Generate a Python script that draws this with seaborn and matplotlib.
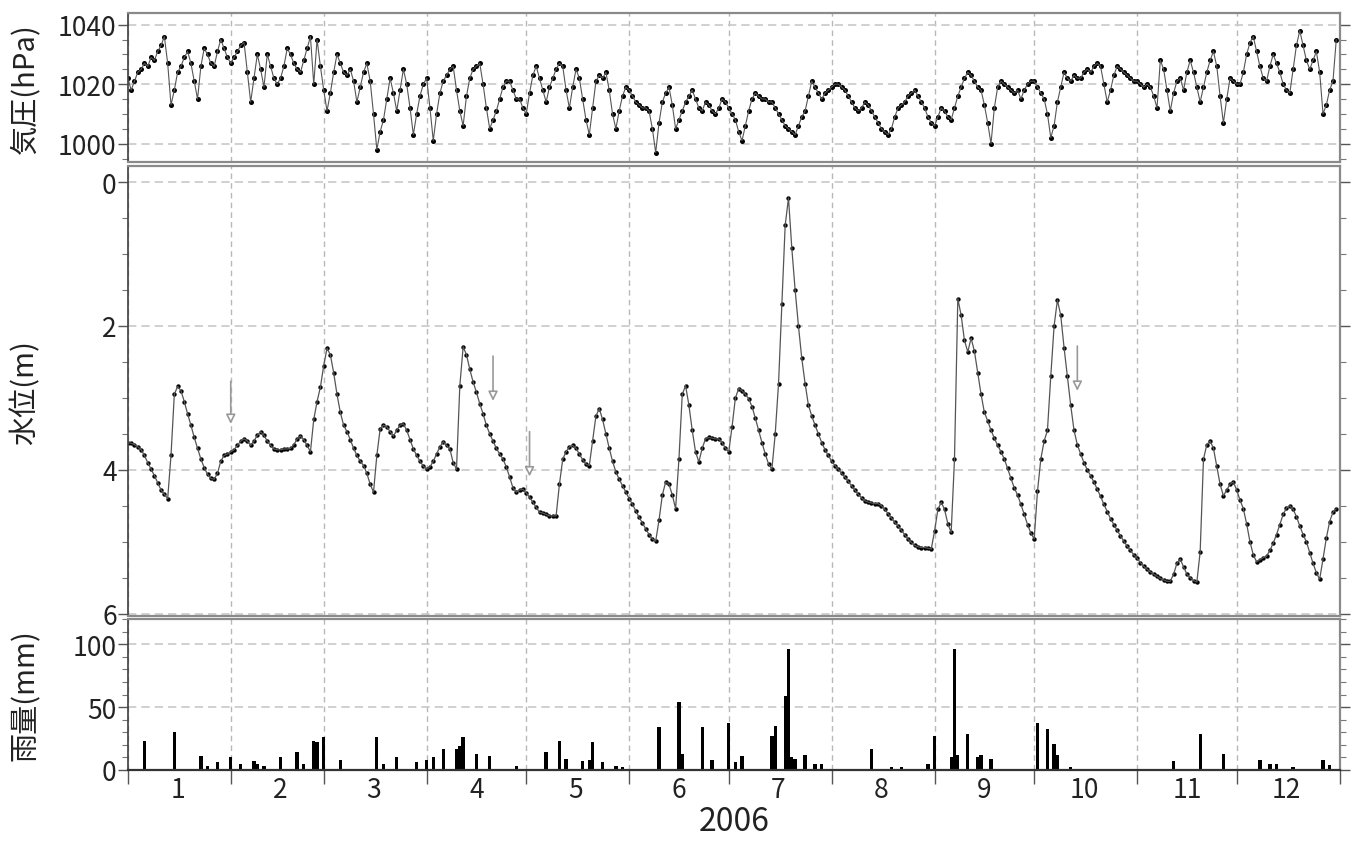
import numpy as np
import pandas as pd
import seaborn as sns
import matplotlib
matplotlib.use('Agg')
import matplotlib.pyplot as plt
import matplotlib.dates as mdates
from matplotlib.ticker import MultipleLocator, NullFormatter

# daily air pressure (hPa), 2006-01-01 .. 2006-12-31
pressure = [
    1022, 1018, 1021, 1024, 1025, 1027, 1026, 1029, 1028, 1031, 1033, 1036, 1027, 1013, 1018, 1024,
    1026, 1029, 1031, 1027, 1021, 1015, 1026, 1032, 1030, 1027, 1026, 1031, 1035, 1032, 1029,
    1027, 1029, 1031, 1033, 1034, 1024, 1014, 1022, 1030, 1025, 1019, 1030, 1026, 1022, 1020,
    1022, 1026, 1032, 1030, 1027, 1025, 1024, 1028, 1032, 1036, 1020, 1035, 1026,
    1018, 1011, 1017, 1024, 1030, 1027, 1024, 1023, 1025, 1021, 1014, 1019, 1024, 1027, 1021,
    1010, 998, 1004, 1008, 1015, 1022, 1017, 1011, 1018, 1025, 1020, 1012, 1003, 1010, 1016, 1020,
    1022, 1012, 1001, 1010, 1017, 1021, 1023, 1025, 1026, 1018, 1011, 1006, 1016, 1022, 1025,
    1026, 1027, 1020, 1012, 1005, 1008, 1011, 1015, 1019, 1021, 1021, 1018, 1015, 1015, 1012,
    1010, 1017, 1023, 1026, 1022, 1018, 1014, 1019, 1022, 1025, 1027, 1026, 1018, 1012, 1019,
    1025, 1022, 1015, 1008, 1003, 1012, 1021, 1023, 1022, 1024, 1018, 1010, 1005, 1011, 1016, 1019,
    1018, 1016, 1014, 1013, 1012, 1012, 1011, 1005, 997, 1007, 1014, 1017, 1019, 1013, 1005,
    1008, 1011, 1014, 1016, 1018, 1015, 1012, 1011, 1014, 1013, 1011, 1010, 1012, 1015, 1014,
    1012, 1010, 1008, 1004, 1001, 1006, 1011, 1015, 1017, 1016, 1015, 1015, 1014, 1014, 1012,
    1010, 1008, 1006, 1005, 1004, 1003, 1006, 1009, 1011, 1016, 1021, 1019, 1017, 1015, 1017, 1018,
    1019, 1020, 1020, 1019, 1018, 1016, 1014, 1012, 1011, 1012, 1014, 1013, 1011, 1009, 1007,
    1005, 1004, 1003, 1005, 1009, 1012, 1013, 1014, 1016, 1017, 1018, 1016, 1014, 1012, 1009, 1007,
    1006, 1009, 1012, 1011, 1009, 1008, 1012, 1016, 1019, 1022, 1024, 1023, 1021, 1019, 1018,
    1013, 1007, 1000, 1012, 1019, 1021, 1020, 1019, 1018, 1017, 1018, 1015, 1018, 1020, 1021,
    1021, 1019, 1017, 1015, 1010, 1002, 1006, 1014, 1019, 1024, 1022, 1021, 1023, 1022, 1022,
    1024, 1025, 1024, 1026, 1027, 1026, 1020, 1014, 1018, 1023, 1026, 1025, 1024, 1023, 1022, 1021,
    1021, 1020, 1019, 1020, 1019, 1016, 1012, 1028, 1025, 1018, 1011, 1017, 1021, 1022, 1018,
    1024, 1028, 1024, 1019, 1014, 1019, 1024, 1028, 1031, 1026, 1016, 1007, 1015, 1022, 1021,
    1020, 1020, 1024, 1030, 1034, 1036, 1031, 1026, 1022, 1021, 1026, 1030, 1027, 1024, 1020,
    1018, 1017, 1025, 1033, 1038, 1033, 1028, 1025, 1028, 1031, 1024, 1010, 1013, 1018, 1021, 1035,
]

# daily groundwater level (m below surface)
water_level = [
    3.62, 3.63, 3.65, 3.68, 3.72, 3.80, 3.90, 3.99, 4.08, 4.18, 4.28, 4.34, 4.40, 3.80, 2.95, 2.84,
    2.90, 3.05, 3.22, 3.38, 3.55, 3.70, 3.85, 3.97, 4.06, 4.12, 4.13, 4.05, 3.88, 3.80, 3.78,
    3.75, 3.72, 3.66, 3.60, 3.57, 3.60, 3.66, 3.60, 3.52, 3.47, 3.52, 3.60, 3.66, 3.71, 3.72,
    3.72, 3.71, 3.71, 3.70, 3.65, 3.57, 3.53, 3.58, 3.66, 3.75, 3.30, 3.05, 2.85,
    2.55, 2.31, 2.40, 2.65, 2.95, 3.20, 3.38, 3.47, 3.58, 3.70, 3.80, 3.88, 3.94, 4.05, 4.20,
    4.31, 3.80, 3.43, 3.38, 3.40, 3.47, 3.53, 3.45, 3.38, 3.36, 3.45, 3.58, 3.71, 3.80, 3.88, 3.95,
    3.99, 3.96, 3.88, 3.78, 3.68, 3.61, 3.66, 3.71, 3.90, 3.99, 2.83, 2.29, 2.40, 2.60, 2.78,
    2.92, 3.08, 3.22, 3.38, 3.50, 3.60, 3.70, 3.78, 3.85, 3.96, 4.10, 4.25, 4.31, 4.28, 4.27,
    4.32, 4.38, 4.45, 4.52, 4.59, 4.60, 4.62, 4.64, 4.64, 4.64, 4.20, 3.85, 3.75, 3.68, 3.66,
    3.70, 3.78, 3.86, 3.92, 3.94, 3.60, 3.25, 3.15, 3.30, 3.50, 3.70, 3.88, 4.03, 4.13, 4.22, 4.31,
    4.40, 4.48, 4.57, 4.66, 4.74, 4.82, 4.90, 4.96, 4.99, 4.70, 4.35, 4.17, 4.20, 4.35, 4.54,
    3.85, 2.95, 2.83, 3.10, 3.45, 3.75, 3.89, 3.70, 3.57, 3.55, 3.56, 3.57, 3.57, 3.62, 3.70,
    3.75, 3.40, 3.00, 2.87, 2.90, 2.95, 3.01, 3.12, 3.28, 3.45, 3.62, 3.78, 3.92, 3.99, 3.50,
    2.80, 1.70, 0.60, 0.22, 0.92, 1.50, 2.00, 2.45, 2.80, 3.10, 3.25, 3.38, 3.50, 3.62, 3.72, 3.80,
    3.88, 3.94, 3.99, 4.05, 4.10, 4.16, 4.22, 4.28, 4.34, 4.39, 4.43, 4.45, 4.46, 4.47, 4.47,
    4.50, 4.55, 4.61, 4.67, 4.73, 4.78, 4.84, 4.90, 4.96, 5.01, 5.05, 5.07, 5.08, 5.08, 5.09, 5.10,
    4.85, 4.55, 4.45, 4.55, 4.75, 4.87, 3.85, 1.62, 1.85, 2.20, 2.36, 2.17, 2.35, 2.65, 2.95,
    3.20, 3.32, 3.45, 3.56, 3.66, 3.75, 3.85, 3.98, 4.12, 4.25, 4.35, 4.48, 4.62, 4.76, 4.88,
    4.96, 4.30, 3.85, 3.60, 3.45, 2.70, 2.00, 1.64, 1.85, 2.30, 2.70, 3.10, 3.45, 3.65, 3.78,
    3.90, 4.00, 4.08, 4.17, 4.27, 4.37, 4.48, 4.58, 4.68, 4.76, 4.84, 4.92, 4.99, 5.06, 5.12, 5.18,
    5.23, 5.29, 5.34, 5.38, 5.42, 5.45, 5.48, 5.51, 5.53, 5.55, 5.55, 5.45, 5.30, 5.24, 5.35,
    5.45, 5.50, 5.54, 5.56, 5.14, 3.85, 3.65, 3.60, 3.70, 3.95, 4.20, 4.36, 4.28, 4.20, 4.17,
    4.28, 4.42, 4.54, 4.75, 5.00, 5.18, 5.28, 5.25, 5.22, 5.20, 5.12, 5.02, 4.90, 4.76, 4.62,
    4.53, 4.50, 4.55, 4.65, 4.78, 4.90, 5.00, 5.15, 5.30, 5.43, 5.52, 5.24, 4.95, 4.72, 4.59, 4.54,
]

# daily rainfall (day of year, mm)
rain_day = [5, 14, 22, 24, 27, 31, 34, 38, 39, 41, 46, 51, 53, 56, 57, 59, 64, 75, 77, 81,
            87, 90, 92, 95, 99, 100, 101, 105, 109, 117, 126, 130, 132, 137, 139, 140, 143,
            147, 149, 160, 166, 167, 173, 176, 181, 183, 185, 194, 195, 198, 199, 200, 201,
            204, 207, 209, 224, 230, 233, 241, 243, 248, 249, 250, 253, 256, 257, 260, 274,
            277, 279, 280, 284, 315, 323, 330, 341, 344, 346, 351, 360, 362]
rain_mm = [23, 30, 11, 3, 6, 10, 5, 7, 5, 3, 10, 14, 5, 23, 22, 26, 8, 26, 5, 10,
           6, 8, 10, 17, 17, 19, 26, 13, 11, 3, 14, 23, 9, 7, 8, 22, 6,
           3, 2, 34, 54, 13, 34, 8, 37, 6, 11, 27, 35, 59, 96, 10, 9,
           12, 5, 5, 17, 2, 2, 5, 27, 10, 96, 12, 29, 10, 12, 9, 37,
           33, 21, 12, 2, 7, 29, 13, 8, 5, 5, 2, 8, 4]

# gray arrows in the water-level panel (day, start level, end level)
arrow_day = [31, 110, 121, 286]
arrow_from = [2.73, 2.38, 3.43, 2.24]
arrow_to = [3.40, 3.08, 4.13, 2.94]

sns.set_theme(style='ticks')
plt.rcParams['font.family'] = ['Noto Sans CJK JP', 'DejaVu Sans']

start = pd.Timestamp('2006-01-01')
dates = pd.date_range(start, periods=365, freq='D')
rain_dates = start + pd.to_timedelta(rain_day, unit='D')
df = pd.DataFrame({'date': dates, 'pressure': pressure, 'level': water_level})

fig = plt.figure(figsize=(13.6, 8.45), dpi=100)
left, width = 0.094, 0.891
ax1 = fig.add_axes([left, 0.807, width, 0.176])
ax2 = fig.add_axes([left, 0.270, width, 0.532], sharex=ax1)
ax3 = fig.add_axes([left, 0.0876, width, 0.1784], sharex=ax1)

# pressure
sns.lineplot(data=df, x='date', y='pressure', ax=ax1, color='#555555', linewidth=0.8)
sns.scatterplot(data=df, x='date', y='pressure', ax=ax1, color='black', s=13,
                marker='o', linewidth=0)
ax1.set_ylim(993.8, 1043.8)
ax1.yaxis.set_major_locator(MultipleLocator(20))
ax1.yaxis.set_minor_locator(MultipleLocator(5))
ax1.set_ylabel('気圧(hPa)')

# water level
sns.lineplot(data=df, x='date', y='level', ax=ax2, color='#555555', linewidth=0.9)
sns.scatterplot(data=df, x='date', y='level', ax=ax2, color='black', s=10,
                marker='o', linewidth=0)
for d, y0, y1 in zip(arrow_day, arrow_from, arrow_to):
    xd = start + pd.Timedelta(days=d)
    ax2.annotate('', xy=(xd, y1), xytext=(xd, y0),
                 arrowprops=dict(arrowstyle='-|>', color='#999999', fc='white',
                                 lw=1.2, mutation_scale=14))
ax2.set_ylim(6.03, -0.22)
ax2.yaxis.set_major_locator(MultipleLocator(2))
ax2.yaxis.set_minor_locator(MultipleLocator(0.5))
ax2.set_ylabel('水位(m)')

# rainfall
ax3.bar(rain_dates, rain_mm, width=1.0, color='black', linewidth=0)
ax3.set_ylim(0, 120)
ax3.yaxis.set_major_locator(MultipleLocator(50))
ax3.yaxis.set_minor_locator(MultipleLocator(10))
ax3.set_ylabel('雨量(mm)')

ax3.set_xlim(start, pd.Timestamp('2007-01-01'))
ax3.xaxis.set_major_locator(mdates.MonthLocator())
ax3.xaxis.set_major_formatter(NullFormatter())
ax3.xaxis.set_minor_locator(mdates.MonthLocator(bymonthday=16))
ax3.xaxis.set_minor_formatter(mdates.DateFormatter('%-m'))
ax3.set_xlabel('2006', fontsize=23, labelpad=2, color='#222222')

for ax in (ax1, ax2, ax3):
    ax.grid(axis='y', which='major', color='#c8c8c8', linestyle=(0, (5, 3)), linewidth=1.2)
    ax.grid(axis='x', which='major', color='#b8b8b8', linestyle=(0, (4, 3)), linewidth=1.0)
    for side in ('top', 'right', 'bottom'):
        ax.spines[side].set_color('#8a8a8a')
        ax.spines[side].set_linewidth(1.6)
    ax.spines['left'].set_color('#444444')
    ax.tick_params(axis='y', which='major', length=7, width=1, labelsize=19,
                   right=True, direction='out', color='#555555', pad=1,
                   labelcolor='#222222')
    ax.tick_params(axis='y', which='minor', length=4, width=0.8, right=True,
                   direction='out', color='#777777')
    ax.yaxis.set_label_coords(-0.072, 0.5)
    ax.yaxis.label.set_size(21)
    ax.yaxis.label.set_color('#222222')

for ax in (ax1, ax2):
    ax.tick_params(axis='x', which='both', bottom=False, labelbottom=False)
    ax.set_xlabel('')

ax3.tick_params(axis='x', which='major', length=10, width=1, color='#555555')
ax3.tick_params(axis='x', which='minor', length=0, labelsize=19, pad=4, labelcolor='#222222')
ax3.spines['bottom'].set_color('#333333')

fig.savefig('out.png', dpi=100)
